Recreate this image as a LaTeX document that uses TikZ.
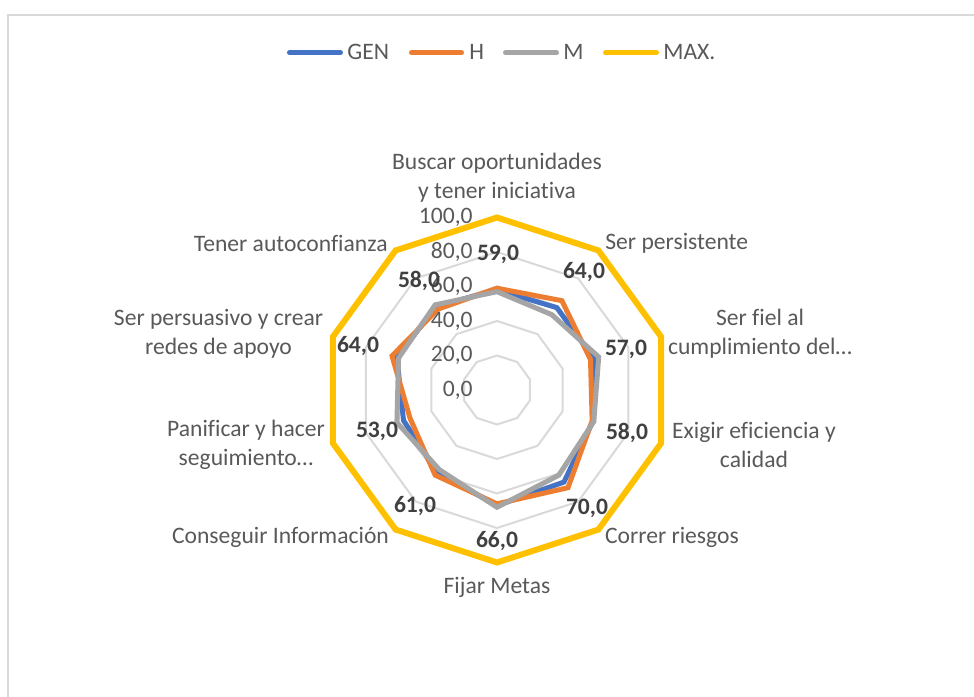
\documentclass[tikz,border=0pt]{standalone}
\usepackage{fontspec}
\setmainfont{Carlito}[Ligatures=CommonOff]
\definecolor{genblue}{HTML}{4472C4}
\definecolor{horange}{HTML}{ED7D31}
\definecolor{mgray}{HTML}{A5A5A5}
\definecolor{maxgold}{HTML}{FFC000}
\definecolor{gridgray}{HTML}{D9D9D9}
\definecolor{labelgray}{HTML}{595959}
\definecolor{valgray}{HTML}{404040}
\begin{document}
\begin{tikzpicture}[x=0.5pt,y=0.5pt,
	txt/.style={text=labelgray,font=\fontsize{11.8}{14.5}\selectfont,inner sep=0pt},
	cat/.style={txt,align=center},
	tick/.style={txt,anchor=east},
	val/.style={text=valgray,font=\fontsize{11.8}{14.5}\selectfont\bfseries,inner sep=0pt},
	ring/.style={draw=gridgray,line width=1pt},
	series/.style={line width=2.5pt},
	maxline/.style={draw=maxgold,line width=3pt},
	legline/.style={line width=2.5pt,line cap=round},
	legtext/.style={txt,anchor=base west}]
	
	\useasboundingbox (-497,-306) rectangle (477,390);
	
	% chart frame
	\draw[gridgray,line width=1pt] (-488.5,-320) -- (-488.5,375) -- (490,375);
	
	% legend
	\draw[legline,genblue] (-207.5,337.3) -- (-156.5,337.3);
	\node[legtext] (lgen) at (-150,330) {GEN};
	\draw[legline,horange] (-85.5,337.3) -- (-35.5,337.3);
	\node[legtext] (lh) at (-28,330) {H};
	\draw[legline,mgray] (8.5,337.3) -- (59.5,337.3);
	\node[legtext] (lm) at (66,330) {M};
	\draw[legline,maxgold] (108.5,337.3) -- (159.5,337.3);
	\node[legtext] (lmax) at (166,330) {MAX.};
	
	% radar, one unit = one point of the scale
	\begin{scope}[x=0.8625pt,y=0.8625pt]
		\foreach \r in {20,40,60,80}
		\draw[ring] (90:\r) \foreach \k in {1,...,9} {-- (90-36*\k:\r)} -- cycle;
		
		\draw[series,genblue] (90:58) \foreach \v [count=\k] in {59,59,58.5,66,67,59,57,61,60} {-- (90-36*\k:\v)} -- cycle;
		\draw[series,horange] (90:59) \foreach \v [count=\k] in {64,57,58,70,66,61,53,64,58} {-- (90-36*\k:\v)} -- cycle;
		\draw[series,mgray] (90:57) \foreach \v [count=\k] in {54,62,59,61,68,57,61,60,61} {-- (90-36*\k:\v)} -- cycle;
		\draw[maxline] (90:100) \foreach \k in {1,...,9} {-- (90-36*\k:100)} -- cycle;
		
		\foreach \t in {0,20,40,60,80,100}
		\node[tick] (tick\t) at (-13.9,\t) {\t,0};
	\end{scope}
	
	% values of H
	\node[val] (v1) at (1,136) {59,0};
	\node[val] (v2) at (87,118) {64,0};
	\node[val] (v3) at (129,41) {57,0};
	\node[val] (v4) at (130,-43) {58,0};
	\node[val] (v5) at (90,-118) {70,0};
	\node[val] (v6) at (0,-151) {66,0};
	\node[val] (v7) at (-82,-116) {61,0};
	\node[val] (v8) at (-120,-41) {53,0};
	\node[val] (v9) at (-139,44) {64,0};
	\node[val] (v10) at (-78,109) {58,0};
	
	% categories
	\node[cat] (c1) at (0,212.5) {Buscar oportunidades\\y tener iniciativa};
	\node[cat,anchor=west] (c2) at (108,147) {Ser persistente};
	\node[cat] (c3) at (263,56) {Ser fiel al\\cumplimiento del…};
	\node[cat] (c4) at (257,-55) {Exigir eficiencia y\\calidad};
	\node[cat,anchor=west] (c5) at (107.7,-147) {Correr riesgos};
	\node[cat] (c6) at (0,-197) {Fijar Metas};
	\node[cat,anchor=east] (c7) at (-107.7,-147) {Conseguir Información};
	\node[cat] (c8) at (-251,-55) {Panificar y hacer\\seguimiento…};
	\node[cat] (c9) at (-278.5,56.5) {Ser persuasivo y crear\\redes de apoyo};
	\node[cat,anchor=east] (c10) at (-109,147) {Tener autoconfianza};
	
\end{tikzpicture}
\end{document}
